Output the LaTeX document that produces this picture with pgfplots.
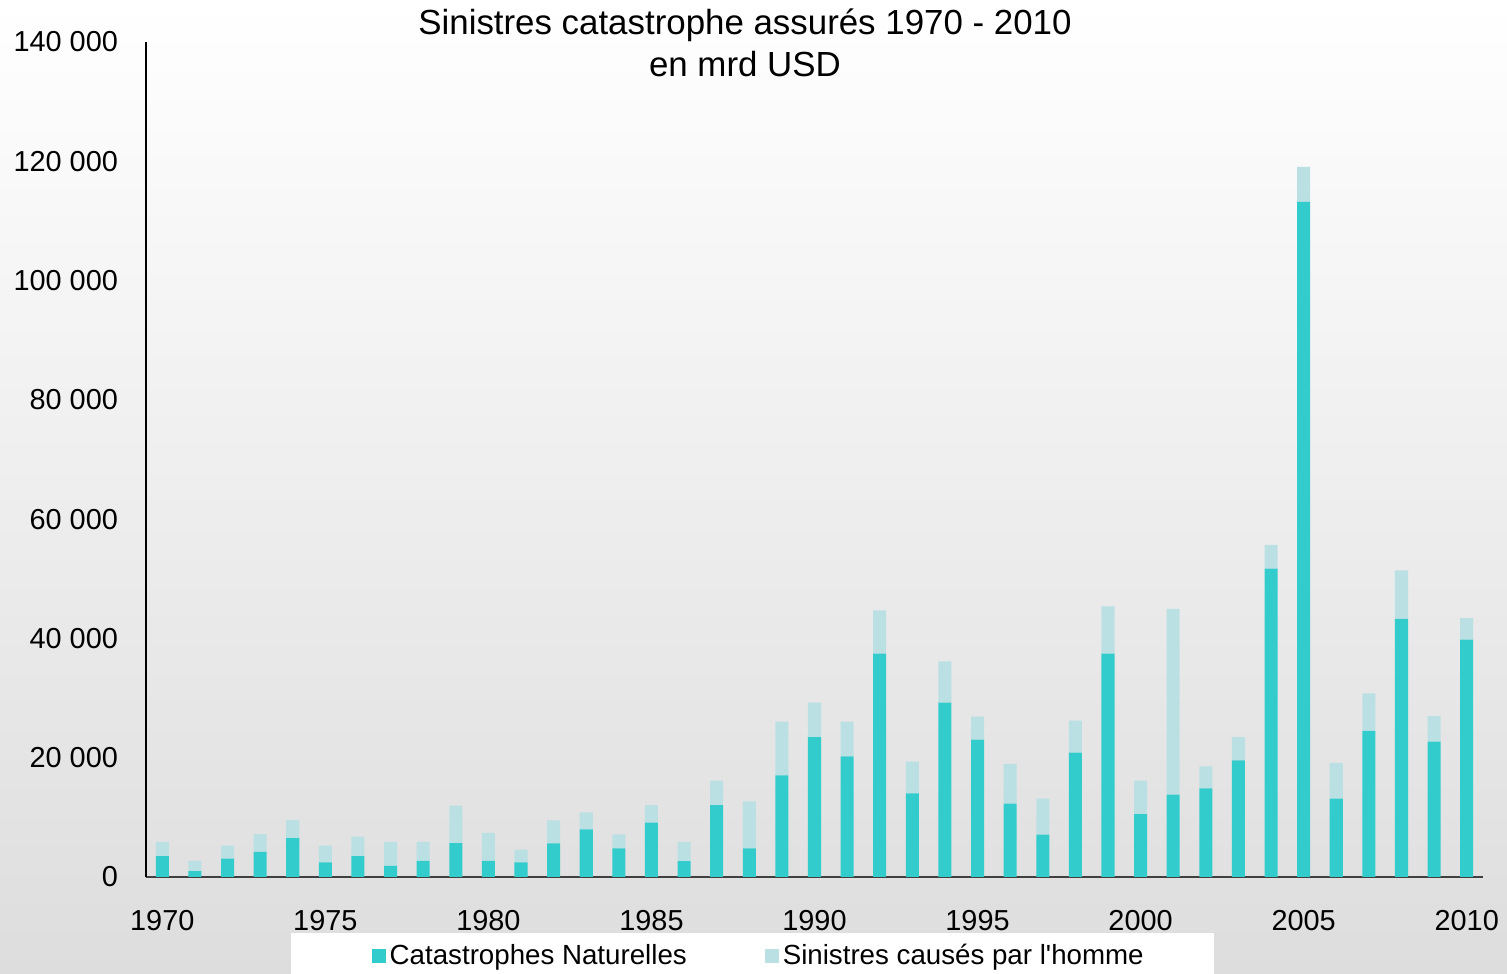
\documentclass[border=0pt]{standalone}
\usepackage{pgfplots}
\pgfplotsset{compat=1.18}
\usepackage{fontspec}
\setmainfont{Liberation Sans}
\newfontfamily\plainfont{Liberation Sans}
\definecolor{natc}{RGB}{51,204,204}
\definecolor{manc}{RGB}{186,224,228}
\definecolor{bgbot}{RGB}{221,221,221}

\pgfplotstableread{
year nat man
1970 3500 2400
1971 1000 1700
1972 3100 2150
1973 4200 3000
1974 6500 3050
1975 2450 2800
1976 3500 3250
1977 1850 4050
1978 2700 3200
1979 5700 6250
1980 2700 4700
1981 2450 2150
1982 5650 3850
1983 8000 2850
1984 4800 2350
1985 9100 2950
1986 2650 3250
1987 12050 4100
1988 4800 7900
1989 17050 9000
1990 23470 5780
1991 20240 5810
1992 37460 7260
1993 14030 5320
1994 29250 6920
1995 23040 3860
1996 12300 6650
1997 7100 6050
1998 20860 5360
1999 37460 7930
2000 10560 5600
2001 13820 31120
2002 14870 3690
2003 19570 3900
2004 51700 3970
2005 113200 5850
2006 13130 6010
2007 24520 6250
2008 43260 8150
2009 22700 4270
2010 39780 3640
}\datatable

\begin{document}
\begin{tikzpicture}
\useasboundingbox (0bp,0bp) rectangle (753.5bp,487bp);
\shade[top color=white, bottom color=bgbot] (0bp,0bp) rectangle (753.5bp,487bp);
\fill[white] (145.5bp,0bp) rectangle (607bp,20.5bp);
\begin{axis}[
  at={(73bp,48.5bp)}, anchor=south west,
  scale only axis, width=668.5bp, height=417.5bp,
  xmin=1969.5, xmax=2010.5, ymin=0, ymax=140000,
  ybar stacked, bar width=0.4,
  axis x line=bottom, axis y line=left,
  x axis line style={-, draw=black!75, line width=1bp},
  y axis line style={-, draw=black, line width=0.6bp},
  major tick length=0pt,
  xtick={1970,1975,...,2010},
  xticklabels={1970,1975,1980,1985,1990,1995,2000,2005,2010},
  ytick={0,20000,...,140000},
  yticklabels={0,20 000,40 000,60 000,80 000,100 000,120 000,140 000},
  scaled y ticks=false,
  ticklabel style={font=\fontsize{14.5}{17}\selectfont},
  yticklabel style={xshift=-10.5bp},
  xticklabel style={yshift=-13bp},
  title={Sinistres catastrophe assurés 1970 - 2010\\en mrd USD},
  title style={at={(0.448,1)}, anchor=center, align=center, yshift=-6.5bp,
    font=\fontsize{17.5}{21}\selectfont},
  legend style={at={(0.459,-0.0946)}, anchor=center, draw=none, fill=none,
    legend columns=2, font=\fontsize{13.9}{16}\selectfont,
    /tikz/every even column/.append style={column sep=37bp}},
]
\addplot[fill=natc, draw=none,
  legend image code/.code={\fill[natc] (-1.5bp,-3.5bp) rectangle (5.5bp,3.5bp);}]
  table[x=year, y=nat] {\datatable};
\addlegendentry{Catastrophes Naturelles}
\addplot[fill=manc, draw=none,
  legend image code/.code={\fill[manc] (-1.5bp,-3.5bp) rectangle (5.5bp,3.5bp);}]
  table[x=year, y=man] {\datatable};
\addlegendentry{{\plainfont Sinistres causés par l'homme}}
\end{axis}
\end{tikzpicture}
\end{document}
